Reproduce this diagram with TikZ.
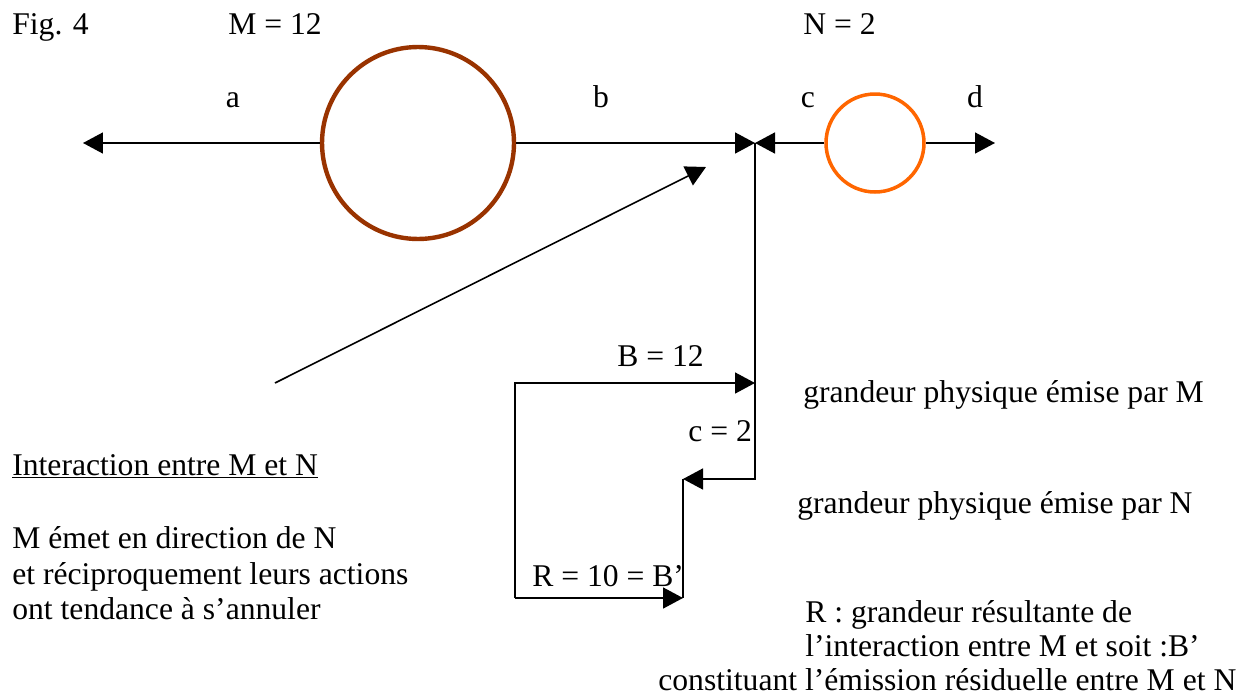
\documentclass[tikz,border=0pt]{standalone}
\usepackage{fontspec}
\setmainfont{Liberation Serif}
\usepackage{xcolor}
\usepackage{tikz}
\usetikzlibrary{arrows.meta, positioning}
\definecolor{mbrown}{HTML}{993300}
\definecolor{norange}{HTML}{FF6600}

\begin{document}
\begin{tikzpicture}[
        x=0.02cm, y=-0.02cm,
        every node/.style={font=\fontsize{18pt}{21pt}\selectfont, inner sep=0pt},
        body/.style={circle, draw, inner sep=0pt},
        arrow/.style={-{Triangle[length=0.4cm, width=0.42cm]}, line width=0.9pt},
        link/.style={line width=0.9pt},
        lbl/.style={anchor=base west},
        clbl/.style={anchor=base}
    ]
        \useasboundingbox (0,0) rectangle (1255,700);

        % BODIES M AND N
        \node[body, draw=mbrown, line width=2.5pt, minimum size=3.84cm] (M) at (418,143) {};
        \node[body, draw=norange, line width=2pt, minimum size=1.96cm] (N) at (875,143) {};

        % FREE ENDS AND CORNERS
        \coordinate (aend) at (83,143);
        \coordinate (junc) at (755,143);
        \coordinate (dend) at (995,143);
        \coordinate (diagstart) at (275,383);
        \coordinate (diagend) at (706,167);
        \coordinate (btip) at (755,383);
        \coordinate (ctip) at (683,479);
        \coordinate (loopsw) at (515,598);
        \coordinate (rtip) at (683,598);

        % ARROWS
        \draw[arrow] (M.west) -- (aend);
        \draw[arrow] (M.east) -- (junc);
        \draw[arrow] (N.west) -- (junc);
        \draw[arrow] (N.east) -- (dend);
        \draw[arrow] (diagstart) -- (diagend);
        \draw[arrow] (junc) |- (ctip);
        \draw[arrow] (loopsw) |- (btip);
        \draw[link] (ctip) -- (rtip);
        \draw[arrow] (loopsw) -- (rtip);

        % TOP LABELS
        \node[lbl] (fig) at (12,34) {Fig. 4};
        \node[lbl] (mval) at (228,34) {M = 12};
        \node[lbl] (nval) at (803,34) {N = 2};
        \node[clbl] (la) at (233,107) {a};
        \node[clbl] (lb) at (601,107) {b};
        \node[clbl] (lc) at (808,107) {c};
        \node[clbl] (ld) at (975,107) {d};

        % BALANCE LABELS
        \node[lbl] (bval) at (617,366) {B = 12};
        \node[lbl] (cval) at (688,441) {c = 2};
        \node[lbl] (rval) at (532,586) {R = 10 = B’};
        \node[lbl] (emM) at (803,402) {grandeur physique émise par M};
        \node[lbl] (emN) at (797,513) {grandeur physique émise par N};

        % TEXT
        \node[lbl] (title) at (12,475) {\underline{Interaction entre M et N}};
        \node[lbl] (desc1) at (12,548) {M émet en direction de N};
        \node[lbl] (desc2) at (12,584) {et réciproquement leurs actions};
        \node[lbl] (desc3) at (12,619) {ont tendance à s’annuler};
        \node[lbl] (res1) at (805,622) {R : grandeur résultante de};
        \node[lbl] (res2) at (805,656) {l’interaction entre M et soit :B’};
        \node[lbl] (res3) at (658,690) {constituant l’émission résiduelle entre M et N};
    \end{tikzpicture}
\end{document}
